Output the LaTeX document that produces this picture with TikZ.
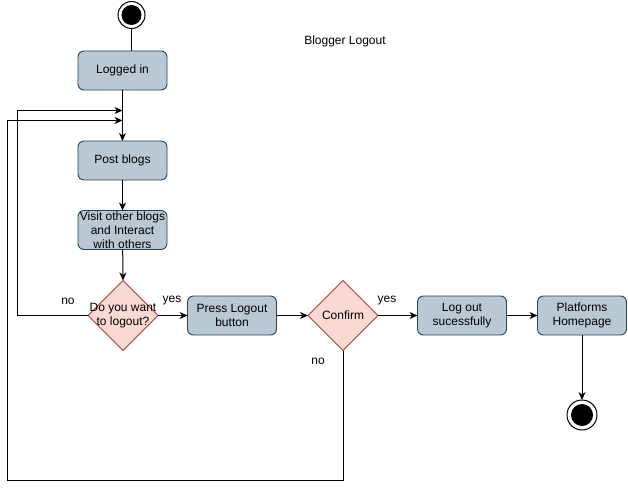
\documentclass[tikz,border=0pt]{standalone}
\usepackage{fontspec}
\setmainfont{Liberation Sans}
\usetikzlibrary{shapes.geometric,arrows.meta}
\definecolor{boxfill}{HTML}{BAC8D3}
\definecolor{boxline}{HTML}{23445D}
\definecolor{diafill}{HTML}{FAD9D5}
\definecolor{dialine}{HTML}{AE4132}
\newcommand\myfs{\fontsize{12}{13.8}\selectfont}
\begin{document}
\begin{tikzpicture}[x=1pt,y=-1pt,
  box/.style={draw=boxline, fill=boxfill, rounded corners=6pt, minimum width=89pt, minimum height=39pt, inner sep=0pt, outer sep=0pt, align=center, font=\myfs, line width=0.9pt},
  dia/.style={shape=diamond, draw=dialine, fill=diafill, minimum width=70pt, minimum height=70pt, inner sep=0pt, outer sep=0pt, line width=0.9pt},
  txt/.style={align=center, font=\myfs, inner sep=0pt},
  lbl/.style={font=\myfs, inner sep=0pt},
  arr/.style={-{Stealth[length=8pt,width=7pt,inset=2.5pt]}, line width=1pt},
  ln/.style={line width=1pt},
  ring/.style={circle, draw=black, fill=white, line width=1pt, inner sep=0pt, outer sep=0pt},
  dot/.style={circle, fill=black, inner sep=0pt}]
\useasboundingbox (0,0) rectangle (628,489);
% title
\node[lbl] (title) at (345,41) {Blogger Logout};
% start
\node[ring, minimum size=27pt] (start) at (131.5,15) {};
\node[dot, minimum size=20pt] (startdot) at (start) {};
% boxes
\node[box] (logged) at (122.5,70.5) {Logged in};
\node[box] (post) at (122.5,160.5) {Post blogs};
\node[box] (visit) at (122.5,230) {Visit other blogs\\and Interact\\with others};
\node[dia] (d1) at (123,315.5) {};
\node[txt] (d1t) at (d1) {Do you want\\to logout?};
\node[box] (press) at (232,315.5) {Press Logout\\button};
\node[dia] (d2) at (343,315.5) {};
\node[txt] (d2t) at (d2) {Confirm};
\node[box] (logout) at (462,315.5) {Log out\\sucessfully};
\node[box] (home) at (582,315.5) {Platforms\\Homepage};
% end
\node[ring, minimum size=30pt] (endc) at (582,415) {};
\node[dot, minimum size=22pt] (enddot) at (endc) {};
% loop coordinates
\coordinate (in1) at (122.5,110.5);
\coordinate (in2) at (122.5,120.5);
\coordinate (l1a) at (17,315.5);
\coordinate (l1b) at (17,110.5);
\coordinate (l2a) at (343,480.5);
\coordinate (l2b) at (7,480.5);
\coordinate (l2c) at (7,120.5);
% connectors
\draw[ln] (start) -- (start |- logged.north);
\draw[arr] (logged) -- (post);
\draw[arr] (post) -- (visit);
\draw[arr] (visit) -- (d1.north);
\draw[arr] (d1.east) -- (press.west);
\draw[arr] (press.east) -- (d2.west);
\draw[arr] (d2.east) -- (logout.west);
\draw[arr] (logout.east) -- (home.west);
\draw[arr] (home.south) -- (endc.north);
\draw[arr] (d1.west) -- (l1a) -- (l1b) -- (in1);
\draw[arr] (d2.south) -- (l2a) -- (l2b) -- (l2c) -- (in2);
% labels
\node[lbl] (no1) at (68,301) {no};
\node[lbl] (yes1) at (172,300.5) {yes};
\node[lbl] (yes2) at (387,300.5) {yes};
\node[lbl] (no2) at (318,361) {no};
\end{tikzpicture}
\end{document}
